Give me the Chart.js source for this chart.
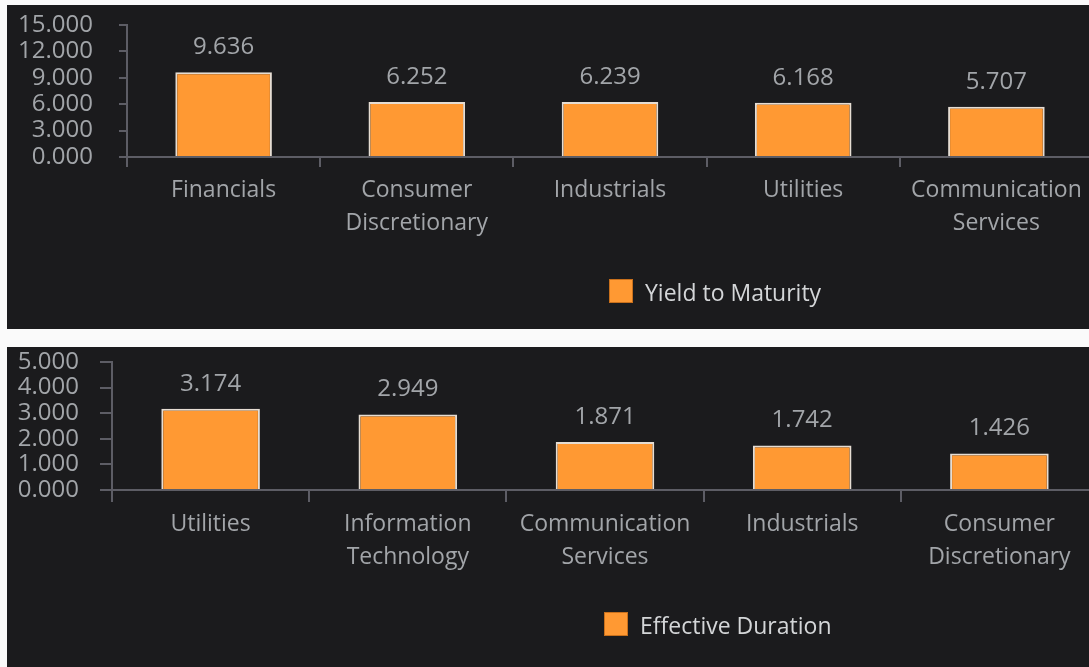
<!DOCTYPE html>
<html lang="en">
<head>
    <meta charset="UTF-8">
    <title>Yield to Maturity / Effective Duration</title>
    <style>
        html, body {
            margin: 0;
            padding: 0;
            background-color: #fafafa;
            overflow: hidden;
        }
        .panel {
            position: absolute;
            left: 7px;
            width: 1082px;
            background-color: #1b1b1d;
            overflow: hidden;
        }
        #panelTop { top: 5px; height: 324px; }
        #panelBottom { top: 347px; height: 320px; }
        canvas { display: block; }
    </style>
</head>
<body>
<div class="panel" id="panelTop">
    <canvas id="ytmChart" width="1090" height="324"></canvas>
</div>
<div class="panel" id="panelBottom">
    <canvas id="durChart" width="1095" height="320"></canvas>
</div>

<script src="https://cdn.jsdelivr.net/npm/chart.js"></script>
<script>
    // top chart data
    const ytmCategories = [['Financials'], ['Consumer', 'Discretionary'], ['Industrials'], ['Utilities'], ['Communication', 'Services']];
    const ytmValues = [9.636, 6.252, 6.239, 6.168, 5.707];
    const ytmTicks = [0, 3, 6, 9, 12, 15];

    // bottom chart data
    const durCategories = [['Utilities'], ['Information', 'Technology'], ['Communication', 'Services'], ['Industrials'], ['Consumer', 'Discretionary']];
    const durValues = [3.174, 2.949, 1.871, 1.742, 1.426];
    const durTicks = [0, 1, 2, 3, 4, 5];

    const barColor = '#ff9933';
    const axisColor = '#5d5d65';
    const textColor = '#a2a5a9';

    Chart.defaults.font.family = "'Open Sans', sans-serif";

    // value above each bar
    const valueLabels = {
        id: 'valueLabels',
        afterDatasetsDraw(chart) {
            const ctx = chart.ctx;
            const meta = chart.getDatasetMeta(0);
            const values = chart.data.datasets[0].data;
            ctx.save();
            ctx.font = "24px 'Open Sans', sans-serif";
            ctx.fillStyle = textColor;
            ctx.textAlign = 'center';
            ctx.textBaseline = 'middle';
            meta.data.forEach((bar, i) => {
                ctx.fillText(values[i].toFixed(3), bar.x, bar.y - 25);
            });
            ctx.restore();
        }
    };

    // legend starts at the middle of the plot area
    const sideLegend = {
        id: 'sideLegend',
        afterDraw(chart) {
            const ctx = chart.ctx;
            const area = chart.chartArea;
            const ds = chart.data.datasets[0];
            const x = (area.left + area.right) / 2 - 1;
            const y = area.bottom + 134;
            ctx.save();
            ctx.fillStyle = barColor;
            ctx.fillRect(x, y - 12, 24, 24);
            ctx.strokeStyle = '#c8701c';
            ctx.lineWidth = 1;
            ctx.strokeRect(x + 0.5, y - 11.5, 23, 23);
            ctx.font = "23px 'Open Sans', sans-serif";
            ctx.fillStyle = '#d4d6d8';
            ctx.textAlign = 'left';
            ctx.textBaseline = 'middle';
            ctx.fillText(ds.label, x + 36, y + 3);
            ctx.restore();
        }
    };

    function makeChart(id, categories, values, label, ticks, g) {
        const ctx = document.getElementById(id).getContext('2d');
        return new Chart(ctx, {
            type: 'bar',
            data: {
                labels: categories,
                datasets: [{
                    label: label,
                    data: values,
                    backgroundColor: barColor,
                    borderColor: '#e6ddd3',
                    borderWidth: 2,
                    categoryPercentage: 1,
                    barPercentage: 0.5
                }]
            },
            options: {
                responsive: false,
                animation: false,
                devicePixelRatio: 1,
                layout: { padding: { top: g.top, right: g.right, left: 0, bottom: 0 } },
                plugins: {
                    legend: { display: false },
                    tooltip: { enabled: false }
                },
                scales: {
                    x: {
                        grid: {
                            drawOnChartArea: false,
                            tickLength: g.xTick,
                            color: axisColor,
                            lineWidth: 2
                        },
                        border: { color: axisColor, width: 2 },
                        ticks: {
                            color: textColor,
                            padding: g.xPad,
                            maxRotation: 0,
                            autoSkip: false,
                            font: { size: 23, lineHeight: 1.43 }
                        },
                        afterFit: (scale) => { scale.height = g.xHeight; }
                    },
                    y: {
                        min: ticks[0],
                        max: ticks[ticks.length - 1],
                        afterBuildTicks: (scale) => {
                            scale.ticks = ticks.map(v => ({ value: v }));
                        },
                        grid: {
                            drawOnChartArea: false,
                            tickLength: g.yTick,
                            color: axisColor,
                            lineWidth: 2
                        },
                        border: { color: axisColor, width: 2 },
                        ticks: {
                            color: textColor,
                            padding: g.yPad,
                            autoSkip: false,
                            font: { size: 24 },
                            callback: (v) => Number(v).toFixed(3)
                        },
                        afterFit: (scale) => {
                            scale.width = g.yWidth;
                            scale.paddingTop = 0;
                            scale.paddingBottom = 0;
                        }
                    }
                }
            },
            plugins: [valueLabels, sideLegend]
        });
    }

    makeChart('ytmChart', ytmCategories, ytmValues, 'Yield to Maturity', ytmTicks,
        { top: 20, right: 4, yWidth: 120, xHeight: 172, yTick: 8, yPad: 26, xTick: 10, xPad: 7 });
    makeChart('durChart', durCategories, durValues, 'Effective Duration', durTicks,
        { top: 15, right: 4, yWidth: 105, xHeight: 177, yTick: 12, yPad: 21, xTick: 12, xPad: 6 });
</script>
</body>
</html>
